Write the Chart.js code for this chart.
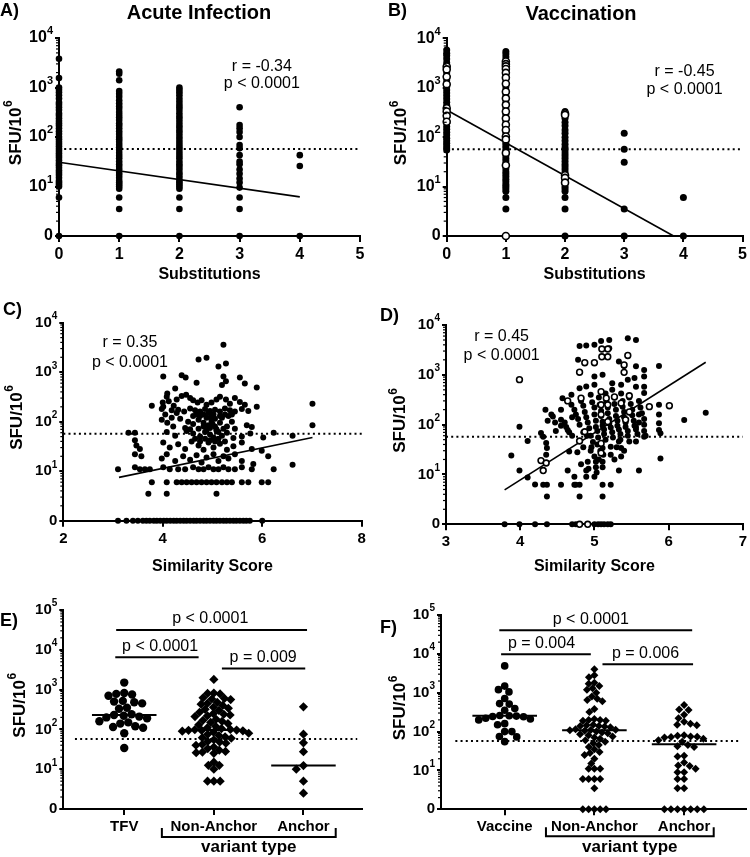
<!DOCTYPE html>
<html lang="en">
<head>
<meta charset="UTF-8">
<title>SFU/10^6 by substitutions, similarity score and variant type</title>
<script src="https://cdn.jsdelivr.net/npm/chart.js"></script>
<style>
  body { margin: 0; background: #fff; font-family: 'Liberation Sans', Arial, sans-serif; }
  #fig { position: relative; width: 750px; height: 857px; overflow: hidden; }
  #fig canvas { position: absolute; }
  .lbl { position: absolute; font-weight: bold; color: #000; white-space: nowrap; line-height: 1; }
  .ttl { transform: translate(-50%, -50%); font-size: 20px; }
  .let { transform: translateY(-50%); font-size: 18px; }
</style>
</head>
<body>
<div id="fig">
  <canvas id="cA" width="375" height="290" style="left:0;top:0"></canvas>
  <canvas id="cB" width="375" height="290" style="left:375px;top:0"></canvas>
  <canvas id="cC" width="375" height="290" style="left:0;top:290px"></canvas>
  <canvas id="cD" width="375" height="290" style="left:375px;top:290px"></canvas>
  <canvas id="cE" width="375" height="277" style="left:0;top:580px"></canvas>
  <canvas id="cF" width="375" height="277" style="left:375px;top:580px"></canvas>

  <div class="lbl let" style="left:0;top:10px">A)</div>
  <div class="lbl let" style="left:388px;top:10px">B)</div>
  <div class="lbl let" style="left:3px;top:309px">C)</div>
  <div class="lbl let" style="left:380px;top:315px">D)</div>
  <div class="lbl let" style="left:0;top:620px">E)</div>
  <div class="lbl let" style="left:380px;top:627px">F)</div>
  <div class="lbl ttl" style="left:199px;top:12px">Acute Infection</div>
  <div class="lbl ttl" style="left:581px;top:13px">Vaccination</div>
</div>

<script>
// ---- data (SFU per 10^6 cells; 0 = no response) ----
const THRESHOLD = 57;

// A) acute infection vs number of substitutions
const acuteSubs = [0, 1, 2, 3, 4];
const acuteSFU = [
  [3800, 1550, 1000, 900, 800, 700, 600, 500, 450, 400, 350, 300, 270, 240, 210, 190, 170, 150, 130, 115, 100, 90, 80, 72, 65, 58, 52, 47, 42, 38, 34, 30, 27, 24, 21, 19, 17, 15, 13, 12, 11, 10, 6, 0],
  [2100, 1900, 1400, 850, 750, 650, 550, 480, 420, 370, 320, 280, 250, 220, 190, 170, 150, 130, 115, 100, 90, 80, 70, 62, 55, 48, 42, 37, 32, 28, 25, 22, 19, 17, 15, 13, 12, 11, 10, 9, 6, 3.5, 0],
  [1000, 900, 800, 700, 600, 520, 450, 400, 350, 300, 260, 230, 200, 175, 155, 135, 120, 105, 92, 80, 70, 62, 55, 48, 42, 37, 32, 28, 25, 22, 19, 17, 15, 13, 12, 11, 10, 9, 6, 3.5, 0],
  [400, 175, 150, 126, 100, 69, 59, 43, 32, 28, 22, 18, 14.5, 12, 9.5, 6, 3.5, 0],
  [43, 26, 0]
];
const acuteFit = { a: 1.49, b: -0.175 };

// B) vaccination vs number of substitutions (filled and open symbols)
const vaccSubs = [0, 1, 2, 3, 4];
const vaccFilled = [
  [5800, 5000, 4500, 3800, 3200, 2800, 2400, 2000, 1700, 1450, 1250, 1050, 900, 780, 680, 590, 510, 440, 380, 330, 290, 250, 220, 190, 165, 145, 125, 110, 95, 85, 75, 67, 60, 55],
  [5400, 4800, 4200, 3600, 3100, 2700, 2300, 2000, 1700, 1450, 1250, 1050, 900, 780, 680, 590, 510, 440, 380, 330, 290, 250, 220, 190, 165, 145, 125, 110, 95, 85, 75, 67, 60, 53, 47, 42, 37, 33, 29, 26, 23, 20, 18, 16, 14, 12.5, 11, 10, 9, 8, 6, 3.5],
  [330, 280, 240, 200, 170, 140, 120, 100, 85, 72, 62, 55, 48, 42, 37, 32, 28, 25, 22, 19, 16, 14, 12, 10, 9, 8, 6, 3.5, 0],
  [120, 57, 31, 3.5, 0],
  [6, 0]
];
const vaccOpen = [
  [2690, 2350, 1670, 1180, 385, 330, 270, 205],
  [3400, 3000, 2700, 2400, 2000, 1600, 1200, 830, 610, 450, 330, 240, 178, 140, 103, 90, 48, 27, 0],
  [300, 280, 17, 15, 12],
  [],
  []
];
const vaccFit = { a: 2.55, b: -0.665 };

// C) acute infection vs similarity score  [score, SFU]
const acuteSim = [
  [5.22,3600],[4.72,1800],[4.88,1950],[5.12,1300],[5.27,1500],[4.01,820],[4.38,870],[4.46,780],[5.22,820],[5.27,660],[5.55,780],[5.19,550],[4.68,610],[5.65,590],[5.89,490],[4.09,370],[4.25,470],[3.78,210],[5.89,200],[7.01,230],[7.01,85],
  [4.00,245],[4.08,320],[4.28,280],[4.38,330],[4.47,350],[4.55,300],[4.61,270],[4.70,245],[4.78,270],[4.88,220],[4.98,245],[5.08,280],[5.15,320],[5.27,280],[5.35,230],[5.45,300],[5.55,250],[5.65,220],
  [3.98,180],[4.18,170],[4.31,175],[4.43,160],[4.55,185],[4.65,170],[4.75,160],[4.85,180],[4.95,165],[5.05,175],[5.15,160],[5.25,185],[5.35,170],[5.45,160],[5.59,180],[5.72,165],
  [3.98,110],[4.09,95],[4.21,80],[4.35,115],[4.51,100],[4.61,90],[4.72,110],[4.82,95],[4.92,85],[4.98,105],[5.05,115],[5.15,95],[5.29,80],[5.39,100],[5.69,85],[5.79,78],
  [3.31,60],[3.44,60],[4.08,62],[4.25,52],[4.48,65],[4.61,58],[4.75,50],[4.85,62],[4.95,55],[5.02,48],[5.08,66],[5.19,52],[5.29,60],[5.42,47],[5.59,50],[5.76,58],[6.02,48],[6.23,60],[6.61,52],
  [3.44,42],[3.47,33],[3.54,28],[4.01,38],[4.14,30],[4.31,35],[4.45,28],[4.58,40],[4.72,33],[4.82,27],[4.92,38],[5.02,30],[5.15,36],[5.29,27],[5.42,32],[5.59,38],[5.79,28],[5.99,26],
  [3.44,22],[3.57,20],[3.98,18],[4.08,22],[4.25,16],[4.41,20],[4.55,17],[4.68,21],[4.78,15],[4.88,19],[5.02,22],[5.12,16],[5.22,20],[5.32,18],[5.45,22],[5.59,16],[5.82,14],[6.12,20],
  [3.10,11],[3.44,12],[3.54,11],[3.64,11],[3.74,11],[4.01,12],[4.14,11],[4.31,11],[4.45,11],[4.61,12],[4.72,11],[4.82,11],[4.92,12],[5.02,11],[5.12,11],[5.22,12],[5.32,11],[5.45,11],[5.59,12],[5.79,11],[6.23,11],[6.61,13.5],
  [3.78,6],[4.08,6],[4.28,6],[4.38,6],[4.48,6],[4.58,6],[4.68,6],[4.78,6],[4.88,6],[4.98,6],[5.08,6],[5.19,6],[5.29,6],[5.39,6],[5.59,6],[5.72,6],[5.99,6],[6.12,6],
  [3.71,3.5],[4.08,3.5],[5.08,3.5],
  [4.75,130],[4.82,140],[4.88,120],[4.92,150],[4.98,125],[5.02,140],[5.05,80],[5.08,70],[5.12,62],[4.95,75],[4.88,68],[4.82,80],[5.15,130],[5.19,120],[5.25,140],[4.68,140],
  [4.61,130],[5.32,130],[5.39,140],[4.55,70],[4.45,75],[5.45,72],[5.22,72],[4.72,72],[5.00,90],[4.85,45],[4.95,42],[5.05,40],[5.12,45],[5.25,40],[4.75,40],[4.65,45],
  [4.01,200],[4.05,140],[4.12,260],[4.18,120],[4.22,210],[4.28,150]
];
const acuteSimZero = [3.10, 3.27, 3.40, 3.50, 3.60, 3.67, 3.74, 3.82, 3.88, 3.95, 4.02, 4.08, 4.15, 4.22, 4.28, 4.35, 4.42, 4.48, 4.55, 4.62, 4.68, 4.75, 4.82, 4.88, 4.95, 5.02, 5.08, 5.15, 5.22, 5.28, 5.35, 5.42, 5.48, 5.55, 5.62, 5.68, 5.75, 6.00];
const acuteSimFit = { a: 0.229, b: 0.207, from: 3.12, to: 7.01 };

// D) vaccination vs similarity score  [score, SFU]
const vaccSimFilled = [
  [5.09,4800],[5.20,5000],[5.00,4000],[4.89,3900],[4.80,3800],[5.45,5400],[5.56,5000],[5.20,3400],[5.11,2300],[4.78,2000],[5.33,1850],[5.40,1500],[5.56,1480],[5.87,1500],[5.54,860],[5.67,1250],[5.67,930],[5.00,930],[5.11,1000],[4.89,580],[5.00,630],[5.24,680],[5.36,630],[5.45,800],[5.56,575],[5.67,575],[5.67,430],[4.80,540],[4.69,400],[4.57,340],
  [5.87,250],[5.87,160],[5.87,107],[5.87,78],[5.89,67],[5.89,21],[6.21,124],[6.50,174],[5.67,57],[5.60,160],[5.60,110],[5.56,90],
  [3.88,24],[3.99,91],[3.99,12],[4.10,47],[4.10,8.7],[4.20,6.3],[4.31,6.2],[4.36,6.2],[4.36,3.6],[4.34,200],[4.37,120],[4.44,145],[4.28,68],[4.31,57],[4.35,43],[4.36,34],[4.35,25],[4.55,125],[4.55,200],[4.64,78],[4.64,12],[4.66,29],[4.55,6.2],[4.73,9],[4.73,6.2],[4.75,6.2],[4.80,6.2],[4.80,3.6],[4.89,12],[4.89,9],[4.91,18],[5.00,23],[5.02,18],[5.02,14],[5.00,9],[5.11,18],[5.11,14],[5.11,6.2],[5.11,3.6],[5.22,6.2],[5.33,12],[5.36,23],[5.36,34],[5.60,12],[5.22,25],[5.22,36],[5.11,34],[5.33,46],[5.47,46],[5.56,46],
  [4.64,300],[4.69,250],[4.73,200],[4.75,160],[4.78,130],[4.80,100],[4.82,300],[4.85,240],[4.87,180],[4.89,140],[4.91,110],[4.93,85],[4.95,400],[4.97,280],[5.00,220],[5.00,160],[5.02,120],[5.02,90],[5.04,75],[5.06,350],[5.07,250],[5.09,190],[5.09,150],[5.11,115],[5.11,95],[5.13,80],[5.13,65],[5.15,420],[5.16,300],[5.18,220],[5.18,170],[5.20,130],[5.20,105],[5.22,88],[5.24,70],[5.24,500],[5.27,350],[5.27,260],[5.29,200],[5.29,150],[5.31,120],[5.31,95],[5.33,80],[5.35,65],[5.36,420],[5.38,300],[5.38,230],[5.40,180],[5.40,140],[5.42,110],[5.42,90],[5.45,75],[5.45,60],[5.47,350],[5.49,260],[5.51,200],[5.51,155],[5.53,120],[5.54,95],[5.56,80],[5.58,65],[5.60,300],[5.62,220],[5.64,170],[5.67,130],[5.67,100],[5.67,75],[5.69,60],
  [4.60,110],[4.62,90],[4.66,70],[4.70,60],[4.85,70],[4.95,60],[5.05,55],[5.15,50],[5.25,55],[5.35,50],[4.70,140],[4.55,95],[4.48,75],[4.42,160],[4.47,110],[4.90,60],[4.98,45],[5.04,40],[5.08,30],[5.12,25],[5.06,20],[4.95,30],[4.85,35],[4.77,28],[4.82,16],[4.92,13],[5.03,11],[4.96,35],[5.27,20],[5.40,30],[5.30,35]
];
const vaccSimZero = [3.79, 3.99, 4.20, 4.36, 4.70, 4.75, 5.00, 5.05, 5.09, 5.13, 5.18, 5.22];
const vaccSimOpen = [
  [3.99,800],[4.80,1130],[4.87,1750],[5.00,1750],[5.10,3300],[5.18,3300],[5.10,2300],[5.18,2300],[5.45,2450],[5.40,1580],[5.40,1120],[4.64,300],[4.82,340],[5.09,460],[5.16,340],[5.09,250],[5.18,250],[5.27,360],[5.36,270],[5.47,380],[5.74,230],[6.01,240],[5.09,160],[5.18,115],[4.87,72],[4.80,47],[5.09,42],[5.09,27],[4.28,19],[4.35,17],[4.31,12],[5.42,125],[5.47,180],[4.80,0],[4.91,0]
];
const vaccSimFit = { a: -2.89, b: 0.945, from: 3.79, to: 6.5 };

// E) acute infection by variant type
const acuteGroups = ['TFV', 'Non-Anchor', 'Anchor'];
const acuteTFV = [1500, 820, 780, 750, 700, 520, 500, 480, 450, 350, 330, 240, 230, 220, 210, 200, 190, 160, 150, 140, 120, 115, 110, 80, 34];
const acuteNonAnchor = [1800, 820, 800, 780, 620, 600, 580, 560, 480, 450, 430, 400, 360, 340, 320, 300, 270, 250, 240, 230, 220, 210, 180, 170, 160, 150, 140, 130, 120, 110, 105, 100, 98, 96, 95, 94, 92, 90, 85, 80, 75, 70, 65, 62, 60, 55, 50, 48, 45, 42, 40, 36, 33, 30, 28, 27, 26, 25, 15, 12.5, 12.5, 10, 5, 5, 5];
const acuteAnchor = [370, 76, 46, 27.5, 12.3, 10, 5, 2.5];
const acuteMedians = [230, 96, 12.3];

// F) vaccination by variant type
const vaccGroups = ['Vaccine', 'Non-Anchor', 'Anchor'];
const vaccVaccine = [4900, 1480, 1200, 1050, 710, 525, 510, 390, 355, 260, 255, 250, 245, 240, 220, 210, 200, 160, 150, 100, 100, 75, 73, 55];
const vaccNonAnchor = [4000, 2800, 2500, 1800, 1700, 1500, 1300, 1200, 1000, 800, 700, 650, 600, 380, 320, 210, 200, 200, 190, 190, 150, 145, 140, 140, 135, 130, 115, 112, 110, 108, 105, 100, 95, 90, 85, 80, 75, 70, 65, 60, 55, 50, 45, 40, 35, 30, 28, 25, 20, 15, 11, 11, 11, 6, 6, 6, 6, 3.5, 0, 0, 0, 0, 0];
const vaccAnchor = [480, 370, 360, 270, 220, 180, 160, 150, 145, 80, 78, 75, 74, 72, 70, 65, 60, 55, 45, 42, 40, 24, 23, 16, 13.5, 13, 11, 9, 9, 6, 6, 3.5, 3.5, 0, 0, 0, 0, 0, 0, 0];
const vaccMedians = [255, 109, 47];

// ---- helpers ----
const FONT = "'Liberation Sans', Arial, sans-serif";
const ly = v => v > 0 ? Math.log10(v) : 0;   // log axis with zero at the bottom

const colPts = (xs, cols) => cols.flatMap((c, i) => c.map(v => ({ x: xs[i], y: ly(v) })));
const pairPts = list => list.map(([s, v]) => ({ x: s, y: ly(v) }));

function dots(data, r, extra) {
  return Object.assign({ data, pointRadius: r, pointHoverRadius: r, backgroundColor: '#000',
    borderColor: '#000', borderWidth: 0, showLine: false, clip: false }, extra || {});
}
function openDots(data, r) {
  return dots(data, r, { backgroundColor: '#fff', borderWidth: 1.6 });
}
function line(data, w, dash) {
  return { data, showLine: true, pointRadius: 0, pointHoverRadius: 0, borderColor: '#000',
    borderWidth: w, borderDash: dash || [], borderCapStyle: 'butt', tension: 0, fill: false, clip: false };
}
const fitLine = (f, x0, x1) => line([{ x: x0, y: f.a + f.b * x0 }, { x: x1, y: f.a + f.b * x1 }], 1.6);
const cutLine = (x0, x1) => line([{ x: x0, y: ly(THRESHOLD) }, { x: x1, y: ly(THRESHOLD) }], 2, [2, 3.2]);

// log axis; its labels (10 with a raised exponent) and title are drawn by the plugin below
function yAxis(max, width) {
  return {
    type: 'linear', min: 0, max,
    afterBuildTicks: s => { s.ticks = []; for (let d = 0; d <= max; d++) s.ticks.push({ value: d }); },
    afterFit: s => { s.width = width; },
    ticks: { display: false },
    grid: { drawOnChartArea: false, color: '#000', lineWidth: 2, tickLength: 4 },
    border: { color: '#000', width: 2 }
  };
}
function xAxis(min, max, values, labelFn, height, size, title, titlePad) {
  return {
    type: 'linear', min, max,
    afterBuildTicks: s => { s.ticks = values.map(v => ({ value: v })); },
    afterFit: s => { s.height = height; },
    ticks: { callback: (v, i) => labelFn(v, i), color: '#000', maxRotation: 0,
      font: { family: FONT, size, weight: 'bold' }, padding: 3 },
    grid: { drawOnChartArea: false, color: '#000', lineWidth: 2, tickLength: 6 },
    border: { color: '#000', width: 2 },
    title: { display: !!title, text: title || '', color: '#000',
      font: { family: FONT, size: 16, weight: 'bold' }, padding: { top: 0, bottom: titlePad } }
  };
}

// annotations per canvas: y labels, r/p notes, significance bars, group bracket
const notes = {
  cA: { tick: 16, ytx: 16, notes: [{ x: 3.37, y: 3.43, gap: 17, lines: ['r = -0.34', 'p < 0.0001'] }] },
  cB: { tick: 16, ytx: 26.5, notes: [{ x: 4.02, y: 3.32, gap: 18, lines: ['r = -0.45', 'p < 0.0001'] }] },
  cC: { tick: 15, ytx: 17, notes: [{ x: 3.34, y: 3.59, gap: 19.5, lines: ['r = 0.35', 'p < 0.0001'] }] },
  cD: { tick: 15, ytx: 25.8, notes: [{ x: 3.75, y: 3.77, gap: 19.3, lines: ['r = 0.45', 'p < 0.0001'] }] },
  cE: {
    tick: 15, ytx: 20,
    bars: [
      { x0: -0.09, x1: 2.04, y: 4.5, tx: 0.96, label: 'p < 0.0001' },
      { x0: -0.10, x1: 0.83, y: 3.81, tx: 0.40, label: 'p < 0.0001' },
      { x0: 1.09, x1: 2.02, y: 3.53, tx: 1.55, label: 'p = 0.009' }
    ],
    bracket: { x0: 0.42, x1: 2.36, dy: 28, label: 'variant type', ty: 38 }
  },
  cF: {
    tick: 15, ytx: 25.8,
    bars: [
      { x0: -0.06, x1: 2.09, y: 4.61, tx: 0.96, label: 'p < 0.0001' },
      { x0: -0.04, x1: 0.96, y: 3.99, tx: 0.41, label: 'p = 0.004' },
      { x0: 1.09, x1: 2.10, y: 3.73, tx: 1.57, label: 'p = 0.006' }
    ],
    bracket: { x0: 0.46, x1: 2.33, dy: 27, label: 'variant type', ty: 38 }
  }
};

Chart.register({
  id: 'extras',
  afterDraw(chart) {
    const { ctx, chartArea: ca, scales: { x, y } } = chart;
    const o = notes[chart.canvas.id] || {};
    ctx.save();
    ctx.strokeStyle = '#000'; ctx.fillStyle = '#000';
    // minor ticks of the log axis
    ctx.lineWidth = 1.2;
    for (let d = 0; d < y.max; d++) {
      for (let k = 2; k <= 9; k++) {
        const py = y.getPixelForValue(d + Math.log10(k));
        ctx.beginPath(); ctx.moveTo(ca.left - 3, py); ctx.lineTo(ca.left, py); ctx.stroke();
      }
    }
    // y tick labels: 0, 10^1, 10^2 ...
    const big = 'bold ' + o.tick + 'px ' + FONT, small = 'bold ' + Math.round(o.tick * 0.68) + 'px ' + FONT;
    const rx = ca.left - 6;
    ctx.textAlign = 'right'; ctx.textBaseline = 'middle';
    y.ticks.forEach(t => {
      const py = y.getPixelForValue(t.value);
      if (t.value === 0) { ctx.font = big; ctx.fillText('0', rx, py); return; }
      ctx.font = small;
      const e = String(t.value), ew = ctx.measureText(e).width;
      ctx.fillText(e, rx, py - o.tick * 0.42);
      ctx.font = big; ctx.fillText('10', rx - ew, py);
    });
    // y axis title SFU/10^6
    ctx.save();
    ctx.translate(o.ytx, (ca.top + ca.bottom) / 2 - 4);
    ctx.rotate(-Math.PI / 2);
    ctx.font = 'bold 17px ' + FONT;
    const w1 = ctx.measureText('SFU/10').width;
    ctx.font = 'bold 12px ' + FONT;
    const w2 = ctx.measureText('6').width;
    ctx.textAlign = 'left';
    ctx.fillText('6', (w1 - w2) / 2 + 0.5, -7);
    ctx.font = 'bold 17px ' + FONT;
    ctx.fillText('SFU/10', -(w1 + w2) / 2, 0);
    ctx.restore();
    // r / p notes
    ctx.textAlign = 'center'; ctx.textBaseline = 'middle';
    ctx.font = '16px ' + FONT;
    (o.notes || []).forEach(n => n.lines.forEach((t, i) =>
      ctx.fillText(t, x.getPixelForValue(n.x), y.getPixelForValue(n.y) + i * n.gap)));
    // significance bars
    ctx.lineWidth = 2;
    (o.bars || []).forEach(b => {
      const py = y.getPixelForValue(b.y);
      ctx.beginPath(); ctx.moveTo(x.getPixelForValue(b.x0), py); ctx.lineTo(x.getPixelForValue(b.x1), py); ctx.stroke();
      ctx.fillText(b.label, x.getPixelForValue(b.tx), py - 11);
    });
    // bracket under the variant groups
    if (o.bracket) {
      const b = o.bracket, py = ca.bottom + b.dy;
      const px0 = x.getPixelForValue(b.x0), px1 = x.getPixelForValue(b.x1);
      ctx.beginPath();
      ctx.moveTo(px0, py - 9); ctx.lineTo(px0, py); ctx.lineTo(px1, py); ctx.lineTo(px1, py - 9);
      ctx.stroke();
      ctx.font = 'bold 17px ' + FONT;
      ctx.fillText(b.label, (px0 + px1) / 2, ca.bottom + b.ty);
    }
    ctx.restore();
  }
});

function makeChart(id, pad, xs, ys, datasets) {
  return new Chart(document.getElementById(id), {
    type: 'scatter',
    data: { datasets },
    options: {
      responsive: false, animation: false, events: [],
      layout: { padding: pad },
      plugins: { legend: { display: false }, tooltip: { enabled: false } },
      scales: { x: xs, y: ys }
    }
  });
}

// spread the points of each group sideways so that they do not overlap too much
function swarm(chart, groups) {
  const { x, y } = chart.scales;
  groups.forEach(g => {
    const cx = x.getPixelForValue(g.center);
    const placed = [], data = [];
    const order = g.vals.map((v, i) => i).sort((a, b) => g.vals[b] - g.vals[a]);
    order.forEach(i => {
      const py = y.getPixelForValue(ly(g.vals[i]));
      const cands = [0];
      placed.forEach(p => {
        const dy = Math.abs(p.y - py);
        if (dy < g.d) { const w = Math.sqrt(g.d * g.d - dy * dy); cands.push(p.x - w, p.x + w); }
      });
      cands.sort((a, b) => Math.abs(a) - Math.abs(b));
      const dx = cands.find(c => placed.every(p => (p.x - c) ** 2 + (p.y - py) ** 2 >= g.d * g.d - 0.01));
      placed.push({ x: dx, y: py });
      data.push({ x: x.getValueForPixel(cx + dx), y: ly(g.vals[i]) });
    });
    chart.data.datasets[g.ds].data = data;
  });
  chart.update();
}

const medianLine = (c, v) => line([{ x: c - 0.36, y: ly(v) }, { x: c + 0.36, y: ly(v) }], 2);
const intLabel = v => String(v);

// ---- A ----
makeChart('cA', { top: 38, right: 15, left: 0, bottom: 0 },
  xAxis(0, 5, [0, 1, 2, 3, 4, 5], intLabel, 54, 16, 'Substitutions', 6),
  yAxis(4, 59),
  [dots(colPts(acuteSubs, acuteSFU), 3.3), fitLine(acuteFit, 0, 4), cutLine(0, 5)]);

// ---- B ----
makeChart('cB', { top: 38.3, right: 3.3, left: 0, bottom: 0 },
  xAxis(0, 5, [0, 1, 2, 3, 4, 5], intLabel, 54, 16, 'Substitutions', 5.5),
  yAxis(4, 71.7),
  [openDots(colPts(vaccSubs, vaccOpen), 3.5), dots(colPts(vaccSubs, vaccFilled), 3.5),
   fitLine(vaccFit, 0, -vaccFit.a / vaccFit.b), cutLine(0, 5)]);

// ---- C ----
makeChart('cC', { top: 32.7, right: 13.3, left: 0, bottom: 0 },
  xAxis(2, 8, [2, 4, 6, 8], intLabel, 59.3, 15, 'Similarity Score', 3.4),
  yAxis(4, 63.3),
  [dots(pairPts(acuteSim).concat(acuteSimZero.map(s => ({ x: s, y: 0 }))), 3),
   fitLine(acuteSimFit, acuteSimFit.from, acuteSimFit.to), cutLine(2, 8)]);

// ---- D ----
makeChart('cD', { top: 35, right: 6, left: 0, bottom: 0 },
  xAxis(3, 7, [3, 4, 5, 6, 7], intLabel, 55.7, 15, 'Similarity Score', 3.4),
  yAxis(4, 71),
  [openDots(pairPts(vaccSimOpen), 2.9),
   dots(pairPts(vaccSimFilled).concat(vaccSimZero.map(s => ({ x: s, y: 0 }))), 3),
   fitLine(vaccSimFit, vaccSimFit.from, vaccSimFit.to), cutLine(3, 7)]);

// ---- E ----
const chE = makeChart('cE', { top: 30, right: 13.3, left: 0, bottom: 0 },
  xAxis(-0.68, 2.65, [0, 1, 2], (v, i) => acuteGroups[i], 48, 15, '', 0),
  yAxis(5, 63.3),
  [...acuteMedians.map((m, i) => medianLine(i, m)),
   dots([], 4.2), dots([], 4.6, { pointStyle: 'rectRot' }), dots([], 4.6, { pointStyle: 'rectRot' }),
   cutLine(-0.55, 2.6)]);
swarm(chE, [
  { ds: 3, vals: acuteTFV, center: 0, d: 8 },
  { ds: 4, vals: acuteNonAnchor, center: 1, d: 6.3 },
  { ds: 5, vals: acuteAnchor, center: 2, d: 8 }
]);

// ---- F ----
const chF = makeChart('cF', { top: 35, right: 3.3, left: 0, bottom: 0 },
  xAxis(-0.71, 2.69, [0, 1, 2], (v, i) => vaccGroups[i], 47.7, 15, '', 0),
  yAxis(5, 66),
  [...vaccMedians.map((m, i) => medianLine(i, m)),
   dots([], 3.8), dots([], 4, { pointStyle: 'rectRot' }), dots([], 4, { pointStyle: 'rectRot' }),
   cutLine(-0.55, 2.62)]);
swarm(chF, [
  { ds: 3, vals: vaccVaccine, center: 0, d: 7.2 },
  { ds: 4, vals: vaccNonAnchor, center: 1, d: 5.8 },
  { ds: 5, vals: vaccAnchor, center: 2, d: 6.6 }
]);
</script>
</body>
</html>
